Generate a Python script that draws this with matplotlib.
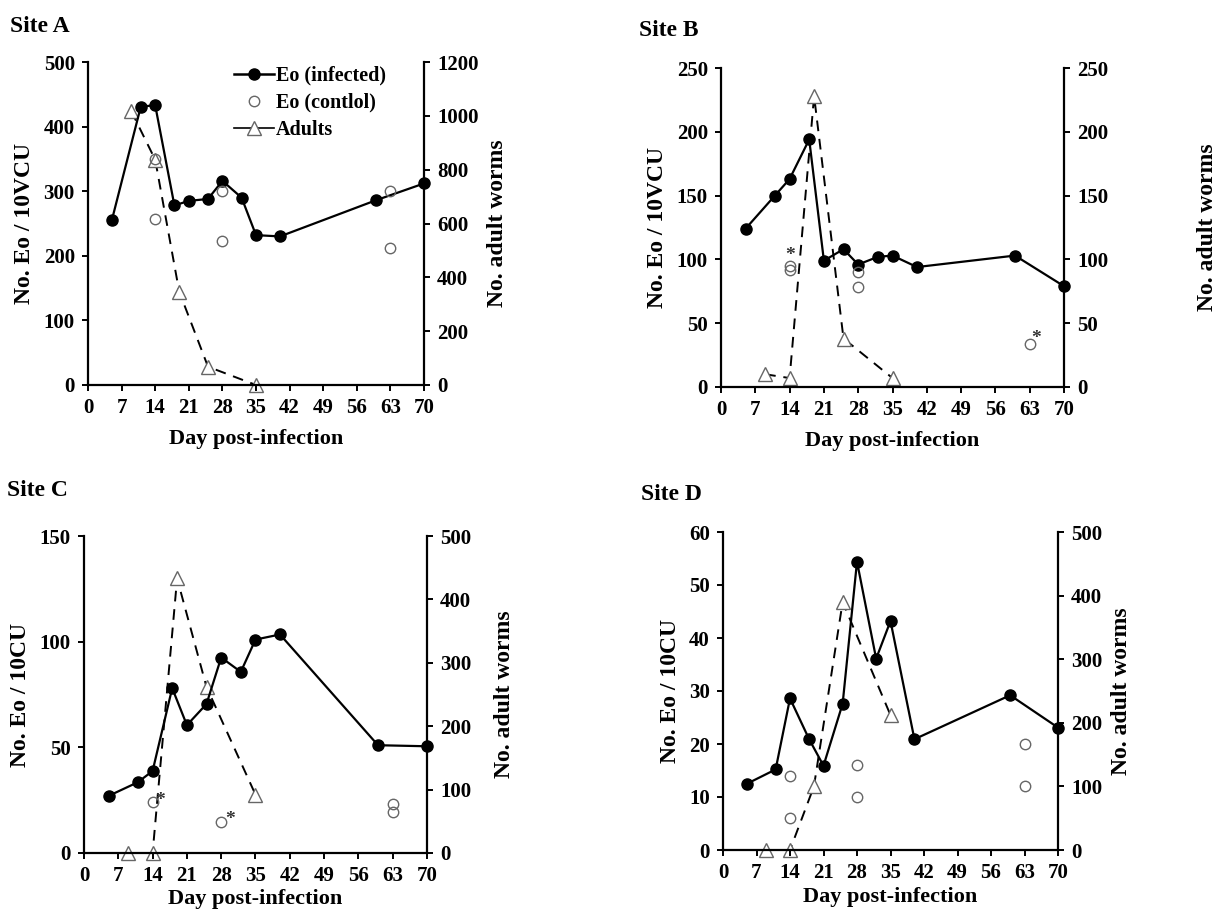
"""Eosinophil counts and adult worm numbers after infection, four sites (2x2 panels)."""

import matplotlib
matplotlib.use("Agg")
import matplotlib.pyplot as plt  # noqa: E402
from matplotlib.lines import Line2D  # noqa: E402

plt.rcParams.update({"font.family": "Liberation Serif", "font.weight": "bold",
                     "axes.labelweight": "bold", "font.size": 15})

W, H = 1227, 919
GREY = "#666666"

# Site A
a_inf_day = [5, 11, 14, 18, 21, 25, 28, 32, 35, 40, 60, 70]
a_inf_eo = [256, 431, 433, 278, 285, 288, 316, 290, 232, 230, 286, 312]
a_ctl_day = [14, 14, 28, 28, 63, 63]
a_ctl_eo = [350, 257, 300, 223, 301, 212]
a_adult_day = [9, 14, 19, 25, 35]
a_adult_n = [1018, 837, 347, 68, 0]

# Site B
b_inf_day = [5, 11, 14, 18, 21, 25, 28, 32, 35, 40, 60, 70]
b_inf_eo = [124, 150, 163, 194, 99, 108, 96, 102, 103, 94, 103, 79]
b_ctl_day = [14, 14, 28, 28, 63]
b_ctl_eo = [95, 92, 90, 78, 34]
b_adult_day = [9, 14, 19, 25, 35]
b_adult_n = [10, 7, 228, 38, 7]

# Site C
c_inf_day = [5, 11, 14, 18, 21, 25, 28, 32, 35, 40, 60, 70]
c_inf_eo = [27, 33.5, 38.8, 78, 60.5, 70.5, 92.5, 85.7, 101, 103.4, 51, 50.5]
c_ctl_day = [14, 28, 63, 63]
c_ctl_eo = [24, 14.5, 23, 19.5]
c_adult_day = [9, 14, 19, 25, 35]
c_adult_n = [0, 0, 433, 262, 92]

# Site D
d_inf_day = [5, 11, 14, 18, 21, 25, 28, 32, 35, 40, 60, 70]
d_inf_eo = [12.5, 15.2, 28.6, 20.9, 15.9, 27.6, 54.4, 36.1, 43.2, 20.9, 29.2, 23.1]
d_ctl_day = [14, 14, 28, 28, 63, 63]
d_ctl_eo = [14, 6, 16, 10, 20, 12]
d_adult_day = [9, 14, 19, 25, 35]
d_adult_n = [0, 0, 100, 390, 212]

X_TICKS = list(range(0, 71, 7))


def rect(l, r, t, b):
    return [l / W, 1 - b / H, (r - l) / W, (b - t) / H]


def panel(fig, box, title, title_xy, inf, ctl, adult, ylim, yticks, ylabel,
          y2lim, y2ticks, xlabelpad, y2pad, stars=(), legend=False):
    ax = fig.add_axes(rect(*box))
    ax2 = ax.twinx()
    ax.plot(*inf, color="black", lw=1.6, marker="o", ms=8, zorder=4, clip_on=False)
    ax.plot(*ctl, ls="none", marker="o", ms=7.5, mfc="none", mec=GREY, mew=1.0,
            zorder=5, clip_on=False)
    ax2.plot(*adult, color="black", lw=1.4, ls=(0, (5.5, 4)), marker="^", ms=9.5,
             mfc="white", mec=GREY, mew=1.0, clip_on=False)
    ax.set_zorder(ax2.get_zorder() + 1)
    ax.patch.set_visible(False)

    ax.set_xlim(0, 70)
    ax.set_xticks(X_TICKS)
    ax.set_ylim(*ylim)
    ax.set_yticks(yticks)
    ax2.set_ylim(*y2lim)
    ax2.set_yticks(y2ticks)
    for a in (ax, ax2):
        a.spines["top"].set_visible(False)
        for s in a.spines.values():
            s.set_linewidth(1.6)
        a.tick_params(width=1.4, length=4.5, labelsize=15, direction="out", pad=5)
    ax.spines["right"].set_visible(False)
    ax2.spines["left"].set_visible(False)
    ax2.spines["bottom"].set_visible(False)
    ax.set_ylabel(ylabel, fontsize=17, labelpad=6)
    ax2.set_ylabel("No. adult worms", fontsize=17, labelpad=y2pad)
    ax.set_xlabel("Day post-infection", fontsize=16, labelpad=xlabelpad)
    fig.text(title_xy[0] / W, 1 - title_xy[1] / H, title, fontsize=17,
             fontweight="bold", va="center")
    for sx, sy in stars:
        ax.text(sx, sy, "*", fontsize=14, ha="center", va="center", color="#333333")

    if legend:
        handles = [Line2D([], [], color="black", lw=1.8, marker="o", ms=8),
                   Line2D([], [], ls="none", marker="o", ms=7.5, mfc="none", mec=GREY),
                   Line2D([], [], color="black", lw=1.2, marker="^", ms=9.5, mfc="white",
                          mec=GREY)]
        ax.legend(handles, ["Eo (infected)", "Eo (contlol)", "Adults"], frameon=False,
                  loc="upper left", bbox_to_anchor=(0.38, 1.045), handlelength=2.0,
                  handletextpad=0.1, labelspacing=0.35, fontsize=14.5)
    return ax


fig = plt.figure(figsize=(W / 100, H / 100), dpi=100)

panel(fig, (88, 424, 62, 385), "Site A", (10, 27),
      (a_inf_day, a_inf_eo), (a_ctl_day, a_ctl_eo), (a_adult_day, a_adult_n),
      (0, 500), range(0, 501, 100), "No. Eo / 10VCU",
      (0, 1200), range(0, 1201, 200), 8, 6, legend=True)

panel(fig, (721, 1064, 68, 387), "Site B", (639, 30),
      (b_inf_day, b_inf_eo), (b_ctl_day, b_ctl_eo), (b_adult_day, b_adult_n),
      (0, 250), range(0, 251, 50), "No. Eo / 10VCU",
      (0, 250), range(0, 251, 50), 8, 64, stars=[(14, 103), (64.3, 38)])

panel(fig, (84, 427, 536, 853), "Site C", (7, 490),
      (c_inf_day, c_inf_eo), (c_ctl_day, c_ctl_eo), (c_adult_day, c_adult_n),
      (0, 150), range(0, 151, 50), "No. Eo / 10CU",
      (0, 500), range(0, 501, 100), 2, 16, stars=[(15.6, 25), (29.8, 16)])

panel(fig, (723, 1058, 532, 850), "Site D", (641, 495),
      (d_inf_day, d_inf_eo), (d_ctl_day, d_ctl_eo), (d_adult_day, d_adult_n),
      (0, 60), range(0, 61, 10), "No. Eo / 10CU",
      (0, 500), range(0, 501, 100), 3, 6)

fig.savefig("out.png", dpi=100)
